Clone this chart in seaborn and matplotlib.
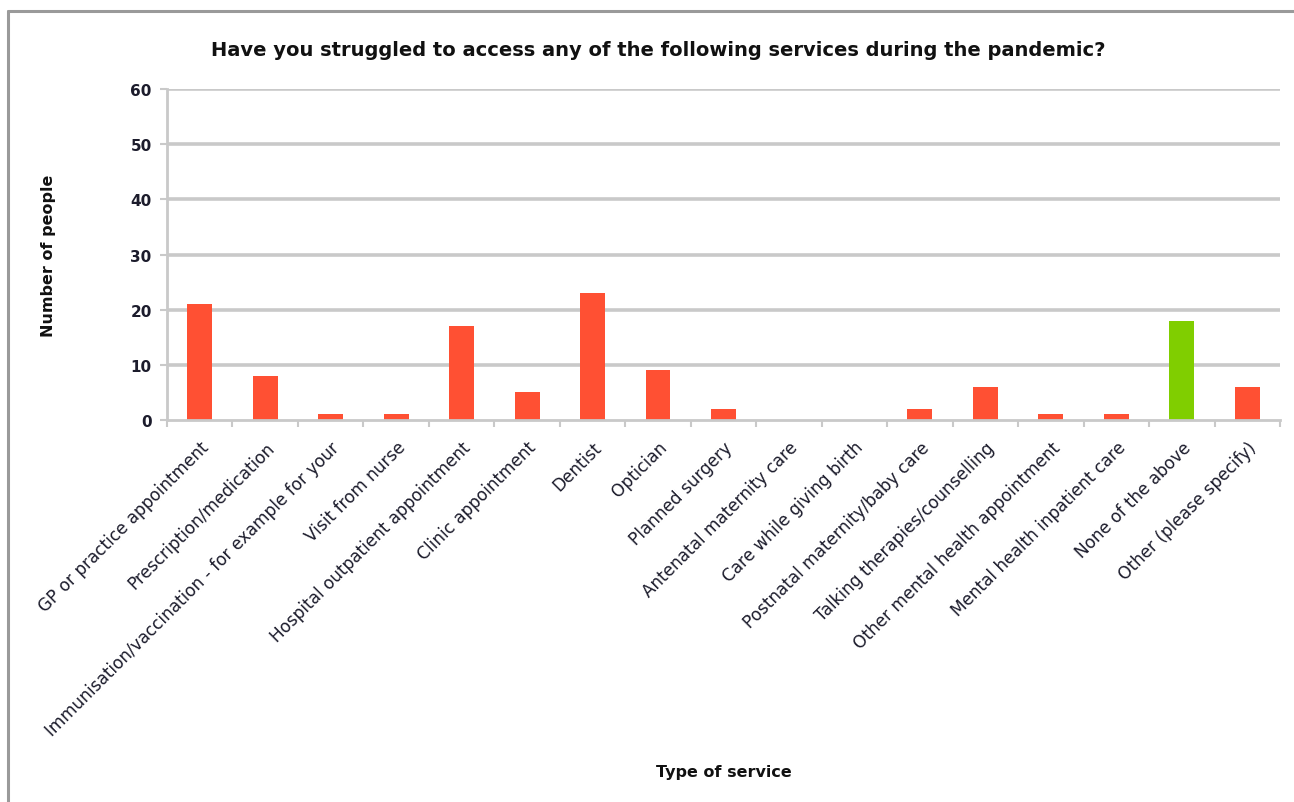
import matplotlib
matplotlib.use("Agg")
import matplotlib.pyplot as plt
import seaborn as sns
import pandas as pd
from matplotlib.lines import Line2D
from matplotlib.ticker import FixedLocator

categories = [
    "GP or practice appointment",
    "Prescription/medication",
    "Immunisation/vaccination - for example for your",
    "Visit from nurse",
    "Hospital outpatient appointment",
    "Clinic appointment",
    "Dentist",
    "Optician",
    "Planned surgery",
    "Antenatal maternity care",
    "Care while giving birth",
    "Postnatal maternity/baby care",
    "Talking therapies/counselling",
    "Other mental health appointment",
    "Mental health inpatient care",
    "None of the above",
    "Other (please specify)",
]
values = [21, 8, 1, 1, 17, 5, 23, 9, 2, 0, 0, 2, 6, 1, 1, 18, 6]
highlight = "None of the above"

RED = "#FF5033"
GREEN = "#80CE00"
GRID = "#c9c9c9"

title = "Have you struggled to access any of the following services during the pandemic?"
xlabel = "Type of service"
ylabel = "Number of people"
yticks = [0, 10, 20, 30, 40, 50, 60]

sns.set_theme(style="white")
plt.rcParams["font.family"] = ["DejaVu Sans"]

df = pd.DataFrame({"service": categories, "count": values})
palette = {c: (GREEN if c == highlight else RED) for c in categories}

fig = plt.figure(figsize=(12.94, 8.03), dpi=100)
ax = fig.add_axes([167 / 1294, 1 - 421 / 803, (1280 - 167) / 1294, (421 - 90) / 803])

sns.barplot(data=df, x="service", y="count", hue="service", palette=palette,
            legend=False, width=0.38, ax=ax, saturation=1, edgecolor="none")

ax.set_ylim(0, 60)
ax.set_xlim(-0.5, len(categories) - 0.5)
ax.set_yticks(yticks)
ax.set_axisbelow(True)
for y in yticks[1:]:
    ax.axhline(y, color=GRID, lw=2.6, zorder=0)

for s in ["top", "right"]:
    ax.spines[s].set_visible(False)
for s in ["left", "bottom"]:
    ax.spines[s].set_color(GRID)
    ax.spines[s].set_linewidth(2.0)

ax.tick_params(axis="y", which="major", length=5, width=1.5, color=GRID,
               labelsize=11, labelcolor="#1c1c2c", pad=6, left=True)
ax.tick_params(axis="x", which="major", length=0, labelsize=12.2,
               labelcolor="#1c1c2c", pad=13)
ax.xaxis.set_minor_locator(FixedLocator([i - 0.5 for i in range(len(categories) + 1)]))
ax.tick_params(axis="x", which="minor", length=5, width=1.5, color=GRID, bottom=True)

ax.set_xticks(range(len(categories)))
ax.set_xticklabels(categories, rotation=45, ha="right", rotation_mode="anchor")
for lab in ax.get_yticklabels():
    lab.set_fontweight("bold")

ax.set_xlabel(xlabel, fontsize=11.5, fontweight="bold", color="#111111", labelpad=0)
ax.xaxis.set_label_coords(0.5, -(765 - 421) / (421 - 90))
ax.set_ylabel(ylabel, fontsize=11.5, fontweight="bold", color="#111111")
ax.yaxis.set_label_coords(-(167 - 56) / (1280 - 167), 0.5)

fig.text(658 / 1294, 1 - 50 / 803, title, ha="center", va="center",
         fontsize=14, fontweight="bold", color="#111111")

# outer frame of the chart panel (top and left edges visible)
fig.add_artist(Line2D([8 / 1294, 8 / 1294], [0, 1 - 12 / 803], transform=fig.transFigure,
                      color="#9a9a9a", lw=2.2))
fig.add_artist(Line2D([8 / 1294, 1], [1 - 12 / 803, 1 - 12 / 803], transform=fig.transFigure,
                      color="#9a9a9a", lw=2.2))

fig.savefig("out.png", dpi=100)
